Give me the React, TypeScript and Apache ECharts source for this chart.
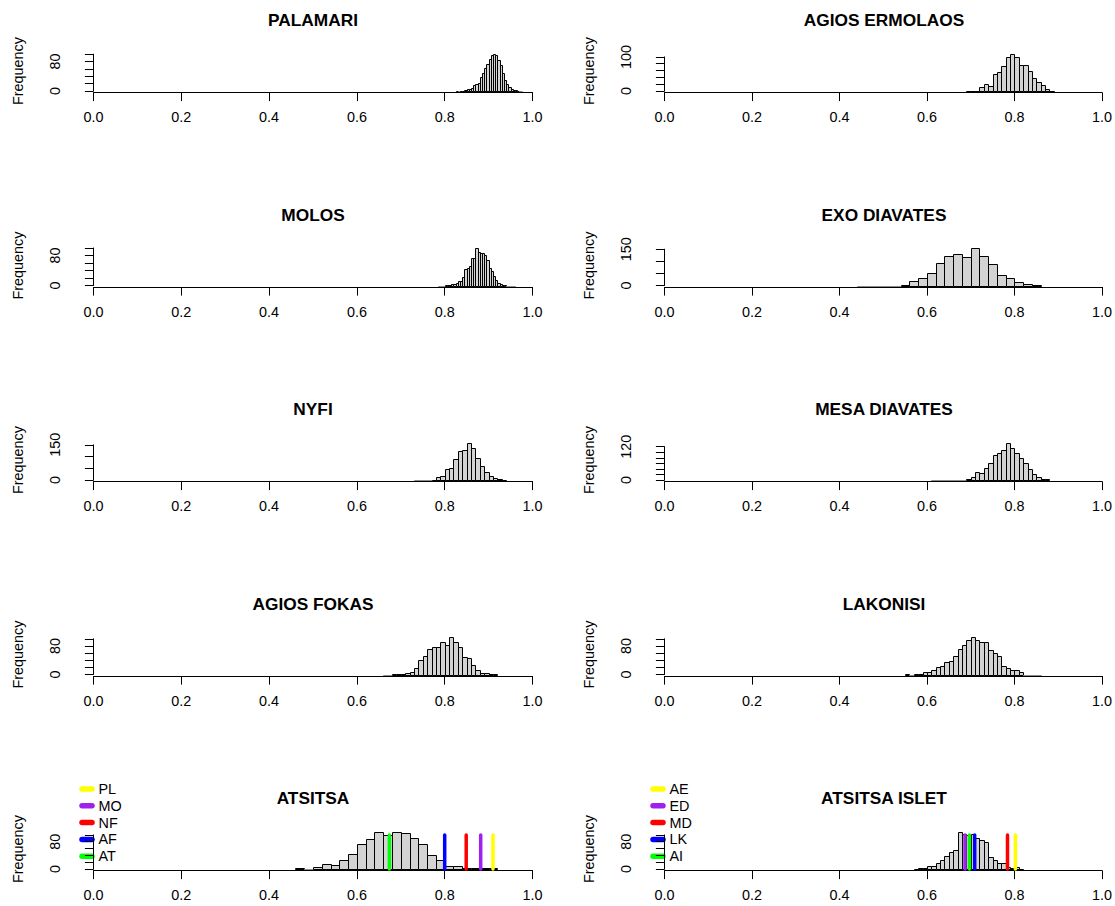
import React, { useEffect, useRef } from "react";
import * as echarts from "echarts";

// ---------- DATA ----------
const titles = [
  "PALAMARI", "AGIOS ERMOLAOS", "MOLOS", "EXO DIAVATES", "NYFI",
  "MESA DIAVATES", "AGIOS FOKAS", "LAKONISI", "ATSITSA", "ATSITSA ISLET",
];

// first bin edge and bin width of every histogram
const binStarts = [0.825, 0.69, 0.785, 0.44, 0.73, 0.61, 0.66, 0.55, 0.46, 0.57];
const binWidths = [0.005, 0.01, 0.005, 0.02, 0.01, 0.01, 0.01, 0.01, 0.02, 0.01];

const palamariCounts = [1, 0, 1, 1, 2, 5, 6, 7, 15, 18, 21, 38, 49, 62, 74, 87, 99, 102, 97, 85, 72, 49, 30, 19, 12, 6, 3, 2, 1, 0];
const agiosErmolaosCounts = [1, 1, 1, 11, 21, 15, 51, 55, 72, 100, 110, 100, 75, 77, 60, 38, 26, 18, 5, 1];
const molosCounts = [0, 0, 0, 1, 1, 2, 3, 5, 7, 11, 12, 22, 44, 47, 51, 73, 73, 100, 89, 87, 87, 82, 69, 47, 38, 25, 16, 7, 4, 2, 1, 0, 0, 0, 0];
const exoDiavatesCounts = [0, 0, 0, 0, 0, 3, 18, 32, 51, 93, 121, 130, 118, 155, 121, 90, 44, 30, 14, 5, 1];
const nyfiCounts = [0, 0, 0, 0, 1, 14, 18, 47, 50, 89, 125, 129, 160, 135, 96, 61, 35, 18, 7, 3, 1];
const mesaDiavatesCounts = [0, 0, 0, 0, 0, 0, 0, 0, 4, 10, 30, 25, 42, 63, 91, 97, 109, 135, 117, 97, 78, 60, 39, 22, 12, 4, 3];
const agiosFokasCounts = [0, 0, 1, 2, 2, 3, 8, 17, 40, 52, 72, 77, 77, 91, 84, 105, 91, 77, 49, 46, 26, 14, 5, 3, 2, 1];
const lakonisiCounts = [1, 0, 1, 2, 6, 6, 14, 21, 23, 35, 38, 52, 71, 83, 98, 105, 98, 91, 90, 69, 60, 53, 23, 18, 13, 13, 8, 0, 0, 0, 0];
const atsitsaCounts = [3, 0, 6, 16, 13, 27, 45, 74, 89, 108, 101, 110, 107, 90, 74, 42, 25, 9, 8, 4, 2, 2, 2];
const atsitsaIsletCounts = [1, 4, 4, 8, 10, 17, 25, 39, 49, 56, 110, 102, 100, 102, 92, 85, 78, 36, 25, 17, 17, 5, 3, 5, 1];

const allCounts = [
  palamariCounts, agiosErmolaosCounts, molosCounts, exoDiavatesCounts, nyfiCounts,
  mesaDiavatesCounts, agiosFokasCounts, lakonisiCounts, atsitsaCounts, atsitsaIsletCounts,
];

// y-axis ticks and the tick labels that are printed
const yTicks = [
  [0, 20, 40, 60, 80, 100],
  [0, 20, 40, 60, 80, 100],
  [0, 20, 40, 60, 80, 100],
  [0, 50, 100, 150],
  [0, 50, 100, 150],
  [0, 20, 40, 60, 80, 100, 120],
  [0, 20, 40, 60, 80, 100],
  [0, 20, 40, 60, 80, 100],
  [0, 20, 40, 60, 80, 100],
  [0, 20, 40, 60, 80, 100],
];
const yLabels = [
  [0, 80], [0, 100], [0, 80], [0, 150], [0, 150],
  [0, 120], [0, 80], [0, 80], [0, 80], [0, 80],
];

// reference lines in the two bottom panels
const atsitsaRefNames = ["PL", "MO", "NF", "AF", "AT"];
const atsitsaRefValues = [0.91, 0.882, 0.849, 0.8, 0.674];
const isletRefNames = ["AE", "ED", "MD", "LK", "AI"];
const isletRefValues = [0.802, 0.687, 0.784, 0.709, 0.697];
const refColors = ["#FFFF00", "#A020F0", "#FF0000", "#0000FF", "#00FF00"];
const refLineHeight = 100;

// ---------- LAYOUT ----------
const FONT = "'Liberation Sans', Arial, Helvetica, sans-serif";
const FS = 14.4;
const TITLE_FS = 17.3;
const COL_X0 = [93.5, 664.5];
const PLOT_W = 439;
const Y_AXIS_OFFSET = 17.5;
const BASE0 = 91;
const ROW_STEP = 194.5;
const MAX_BAR_PX = 37.5;
const TITLE_Y0 = 20;
const TICK_LEN = 8.6;

function buildOption() {
  const grid: any[] = [];
  const xAxis: any[] = [];
  const yAxis: any[] = [];
  const series: any[] = [];
  const graphic: any[] = [];

  titles.forEach((title, i) => {
    const row = Math.floor(i / 2);
    const col = i % 2;
    const counts = allCounts[i];
    const maxC = Math.max(...counts);
    const ppc = MAX_BAR_PX / maxC;
    const ticks = yTicks[i];
    const lastTick = ticks[ticks.length - 1];
    const h = lastTick * ppc;
    const base = BASE0 + row * ROW_STEP;
    const x0 = COL_X0[col];

    grid.push({ left: x0, top: base - h, width: PLOT_W, height: h, containLabel: false });

    xAxis.push({
      type: "value", gridIndex: i, min: 0, max: 1, interval: 0.2, offset: 1.5,
      axisLine: { show: true, onZero: false, lineStyle: { color: "#000", width: 1 } },
      axisTick: { show: true, length: TICK_LEN, lineStyle: { color: "#000", width: 1 } },
      axisLabel: {
        show: true, margin: 17.5, color: "#000", fontSize: FS, fontFamily: FONT,
        formatter: (v: number) => v.toFixed(1),
      },
      splitLine: { show: false },
    });

    yAxis.push({
      type: "value", gridIndex: i, min: 0, max: lastTick, offset: Y_AXIS_OFFSET,
      axisLine: { show: true, lineStyle: { color: "#000", width: 1 } },
      axisTick: { show: true, length: TICK_LEN, customValues: ticks, lineStyle: { color: "#000", width: 1 } },
      axisLabel: {
        show: true, rotate: 90, margin: 14, color: "#000", fontSize: FS, fontFamily: FONT,
        customValues: yLabels[i],
      },
      splitLine: { show: false },
    });

    const data = counts.map((c, k) => [
      binStarts[i] + k * binWidths[i],
      binStarts[i] + (k + 1) * binWidths[i],
      c,
    ]);
    series.push({
      type: "custom", xAxisIndex: i, yAxisIndex: i, clip: false, silent: true,
      data,
      renderItem: (params: any, api: any) => {
        const a = api.value(0), b = api.value(1), c = api.value(2);
        const p0 = api.coord([a, 0]);
        const p1 = api.coord([b, c]);
        const left = Math.round(p0[0]) + 0.5;
        const right = Math.round(p1[0]) + 0.5;
        const bottom = Math.round(p0[1]) + 0.5;
        const top = Math.round(p1[1]) + 0.5;
        return {
          type: "rect",
          shape: { x: left, y: top, width: right - left, height: bottom - top },
          style: { fill: "#D3D3D3", stroke: c > 0 ? "#000" : "#8a8a8a", lineWidth: 1 },
        };
      },
    });

    // title
    graphic.push({
      type: "text",
      x: x0 + PLOT_W / 2, y: TITLE_Y0 + row * ROW_STEP,
      style: {
        text: title, fill: "#000", font: `bold ${TITLE_FS}px ${FONT}`,
        textAlign: "center", textVerticalAlign: "middle",
      },
    });
    // y-axis name
    graphic.push({
      type: "text",
      x: x0 - Y_AXIS_OFFSET - 58, y: base - 20, rotation: Math.PI / 2,
      style: {
        text: "Frequency", fill: "#000", font: `${FS}px ${FONT}`,
        textAlign: "center", textVerticalAlign: "middle",
      },
    });
  });

  // reference lines + legends
  const refSets = [
    { panel: 8, names: atsitsaRefNames, values: atsitsaRefValues },
    { panel: 9, names: isletRefNames, values: isletRefValues },
  ];
  refSets.forEach((set) => {
    const col = set.panel % 2;
    const row = Math.floor(set.panel / 2);
    series.push({
      type: "custom", xAxisIndex: set.panel, yAxisIndex: set.panel, clip: false, silent: true,
      data: set.values.map((v, k) => [v, refLineHeight, k]),
      renderItem: (params: any, api: any) => {
        const v = api.value(0), hgt = api.value(1), k = api.value(2);
        const p0 = api.coord([v, 0]);
        const p1 = api.coord([v, hgt]);
        return {
          type: "line",
          shape: { x1: p0[0], y1: p0[1], x2: p1[0], y2: p1[1] },
          style: { stroke: refColors[k], lineWidth: 3.5, lineCap: "round" },
        };
      },
    });
    const lx = COL_X0[col] - 11.5;
    const ly0 = TITLE_Y0 + row * ROW_STEP - 9;
    set.names.forEach((nm, k) => {
      const y = ly0 + k * 16.8;
      graphic.push({
        type: "line",
        shape: { x1: lx, y1: y, x2: lx + 10, y2: y },
        style: { stroke: refColors[k], lineWidth: 5.5, lineCap: "round" },
      });
      graphic.push({
        type: "text", x: lx + 16.5, y,
        style: { text: nm, fill: "#000", font: `${FS}px ${FONT}`, textAlign: "left", textVerticalAlign: "middle" },
      });
    });
  });

  return {
    animation: false,
    backgroundColor: "#ffffff",
    grid, xAxis, yAxis, series, graphic,
  };
}

export default function App() {
  const ref = useRef<HTMLDivElement>(null);
  useEffect(() => {
    if (!ref.current) return;
    const chart = echarts.init(ref.current, null, { renderer: "svg" });
    chart.setOption(buildOption() as any);
    return () => chart.dispose();
  }, []);
  return (
    <div
      ref={ref}
      style={{ position: "fixed", left: 0, top: 0, width: 1115, height: 906, background: "#fff" }}
    />
  );
}
